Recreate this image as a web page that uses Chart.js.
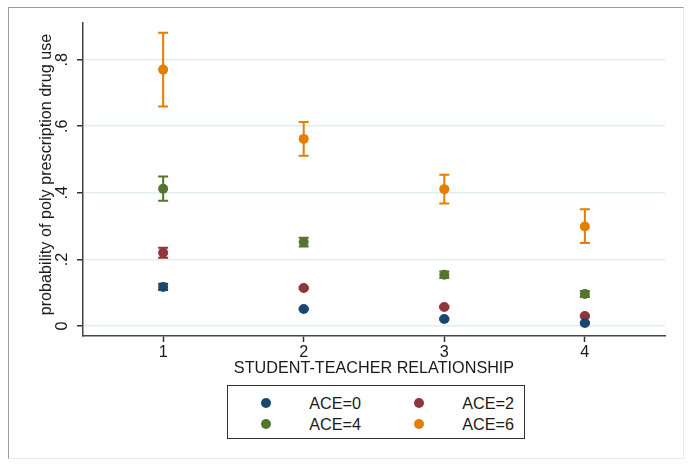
<!DOCTYPE html>
<html>
<head>
<meta charset="utf-8">
<script src="https://cdn.jsdelivr.net/npm/chart.js@4.4.0/dist/chart.umd.min.js"></script>
<style>
    body { margin: 0; background: #fff; font-family: "Liberation Sans", Arial, sans-serif; }
    #wrap { position: relative; width: 688px; height: 465px; }
    #frame {
        position: absolute; left: 8px; top: 7px; width: 674px; height: 450px;
        border-top: 1px solid #9c9c9c; border-left: 1px solid #9c9c9c;
        border-right: 1px solid #e6eded; border-bottom: 1px solid #e6eded;
    }
    #chartBox { position: absolute; left: 0; top: 0; width: 688px; height: 465px; }
    #legend {
        position: absolute; left: 227px; top: 385px; width: 298px; height: 54px;
        border: 1.5px solid #333; box-sizing: border-box; background: #fff;
    }
    .item {
        position: absolute; width: 100px; height: 20px;
        display: flex; align-items: center; font-size: 16.2px; color: #1a1a1a;
    }
    .item .dot { width: 10px; height: 10px; border-radius: 50%; flex: none; }
    .item .txt { flex: 1; text-align: right; }
</style>
</head>
<body>
<div id="wrap">
    <div id="frame"></div>
    <div id="chartBox"><canvas id="chart"></canvas></div>
    <div id="legend"></div>
</div>
<script>
const categories = [1, 2, 3, 4];
const yTicks = [0, 0.2, 0.4, 0.6, 0.8];
const yTickLabels = ["0", ".2", ".4", ".6", ".8"];
const xTitle = "STUDENT-TEACHER RELATIONSHIP";
const yTitle = "probability of poly prescription drug use";

const seriesNames = ["ACE=0", "ACE=2", "ACE=4", "ACE=6"];
const seriesColors = ["#1a476f", "#90353b", "#55752f", "#e37e00"];

// predicted probability and confidence bounds
const ace0 = [0.117, 0.051, 0.021, 0.009];
const ace0Lo = [0.108, 0.049, 0.019, 0.007];
const ace0Hi = [0.127, 0.053, 0.023, 0.011];

const ace2 = [0.220, 0.114, 0.057, 0.030];
const ace2Lo = [0.205, 0.111, 0.054, 0.027];
const ace2Hi = [0.235, 0.117, 0.060, 0.033];

const ace4 = [0.412, 0.252, 0.154, 0.096];
const ace4Lo = [0.376, 0.239, 0.144, 0.087];
const ace4Hi = [0.449, 0.265, 0.164, 0.105];

const ace6 = [0.770, 0.562, 0.411, 0.299];
const ace6Lo = [0.659, 0.511, 0.368, 0.249];
const ace6Hi = [0.881, 0.613, 0.454, 0.351];

const values = [ace0, ace2, ace4, ace6];
const lows = [ace0Lo, ace2Lo, ace4Lo, ace6Lo];
const highs = [ace0Hi, ace2Hi, ace4Hi, ace6Hi];

const FONT = "'Liberation Sans', Arial, sans-serif";
const FONT_SIZE = 16.2;

const datasets = seriesNames.map((name, i) => ({
    label: name,
    data: categories.map((c, j) => ({ x: c, y: values[i][j] })),
    errLo: lows[i],
    errHi: highs[i],
    backgroundColor: seriesColors[i],
    borderColor: seriesColors[i],
    borderWidth: 0,
    pointRadius: 5,
    pointHoverRadius: 5
}));

/* error bars + stata style vertical y labels */
const stataBits = {
    id: "stataBits",
    beforeDatasetsDraw(chart) {
        const ctx = chart.ctx;
        const xs = chart.scales.x;
        const ys = chart.scales.y;
        chart.data.datasets.forEach(ds => {
            ds.data.forEach((p, j) => {
                const px = xs.getPixelForValue(p.x);
                const top = ys.getPixelForValue(ds.errHi[j]);
                const bot = ys.getPixelForValue(ds.errLo[j]);
                ctx.save();
                ctx.strokeStyle = ds.borderColor;
                ctx.lineWidth = 2;
                ctx.beginPath();
                ctx.moveTo(px, top);
                ctx.lineTo(px, bot);
                ctx.moveTo(px - 5, top);
                ctx.lineTo(px + 5, top);
                ctx.moveTo(px - 5, bot);
                ctx.lineTo(px + 5, bot);
                ctx.stroke();
                ctx.restore();
            });
        });
    },
    afterDraw(chart) {
        const ctx = chart.ctx;
        const ys = chart.scales.y;
        ctx.save();
        ctx.fillStyle = "#1a1a1a";
        ctx.font = FONT_SIZE + "px " + FONT;
        ctx.textAlign = "center";
        ctx.textBaseline = "middle";
        yTicks.forEach((v, i) => {
            ctx.save();
            ctx.translate(ys.right - 20, ys.getPixelForValue(v));
            ctx.rotate(-Math.PI / 2);
            ctx.fillText(yTickLabels[i], 0, 0);
            ctx.restore();
        });
        // axis title, a bit above the middle like the original
        ctx.translate(ys.left + 10, (ys.top + ys.bottom) / 2 - 5);
        ctx.rotate(-Math.PI / 2);
        ctx.fillText(yTitle, 0, 0);
        ctx.restore();
    }
};

const chart = new Chart(document.getElementById("chart"), {
    type: "scatter",
    data: { datasets: datasets },
    options: {
        responsive: true,
        maintainAspectRatio: false,
        animation: false,
        events: [],
        layout: { padding: { left: 37, right: 23, top: 23, bottom: 87 } },
        plugins: {
            legend: { display: false },
            tooltip: { enabled: false }
        },
        scales: {
            x: {
                type: "linear",
                min: 0.43,
                max: 4.57,
                afterBuildTicks: s => { s.ticks = categories.map(v => ({ value: v })); },
                afterFit: s => { s.height = 42; },
                ticks: {
                    color: "#1a1a1a",
                    font: { family: FONT, size: FONT_SIZE },
                    padding: 1,
                    maxRotation: 0
                },
                grid: {
                    drawOnChartArea: false,
                    drawTicks: true,
                    tickLength: 6,
                    tickColor: "#333",
                    tickWidth: 1.5
                },
                border: { color: "#444", width: 1.5 },
                title: {
                    display: true,
                    text: xTitle,
                    color: "#1a1a1a",
                    font: { family: FONT, size: FONT_SIZE },
                    padding: { top: 0, bottom: 0 }
                }
            },
            y: {
                min: -0.03,
                max: 0.91,
                afterBuildTicks: s => { s.ticks = yTicks.map(v => ({ value: v })); },
                afterFit: s => { s.width = 46; },
                ticks: { display: false },
                grid: {
                    color: "#e3eded",
                    lineWidth: 1.5,
                    drawTicks: true,
                    tickLength: 6,
                    tickColor: "#333",
                    tickWidth: 1.5
                },
                border: { color: "#444", width: 1.5 }
            }
        }
    },
    plugins: [stataBits]
});

// legend box, two columns like the original
const legend = document.getElementById("legend");
const colLeft = [33, 186];
const rowTop = [7, 28];
chart.data.datasets.forEach((ds, i) => {
    const item = document.createElement("div");
    item.className = "item";
    item.style.left = colLeft[i % 2] + "px";
    item.style.top = rowTop[Math.floor(i / 2)] + "px";
    item.innerHTML = '<span class="dot" style="background:' + ds.backgroundColor + '"></span><span class="txt">' + ds.label + '</span>';
    legend.appendChild(item);
});
</script>
</body>
</html>
